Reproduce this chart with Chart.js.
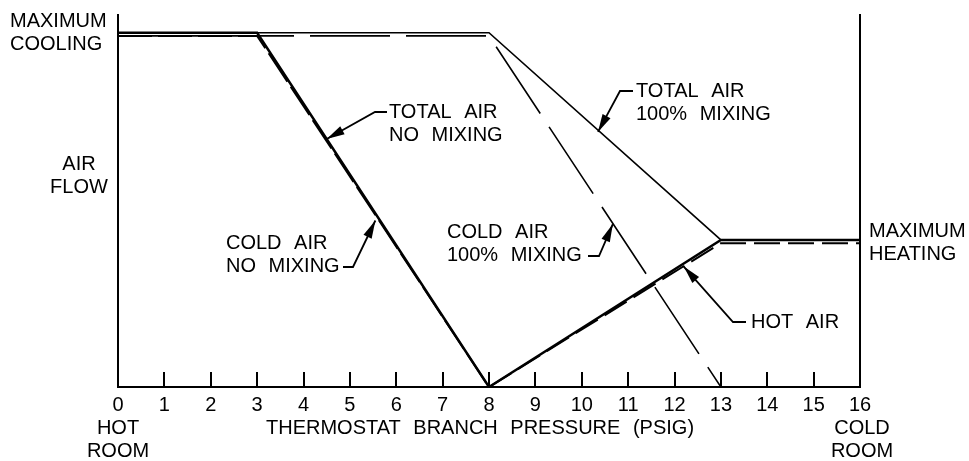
<!DOCTYPE html>
<html>
<head>
<meta charset="utf-8">
<script src="https://cdn.jsdelivr.net/npm/chart.js@4/dist/chart.umd.min.js"></script>
<style>
html, body { margin: 0; background: #fff; }
#wrap { width: 969px; height: 461px; }
</style>
</head>
<body>
<div id="wrap"><canvas id="chart"></canvas></div>
<script>
// --- data (x = thermostat branch pressure psig, y = relative air flow) ---
const pressureTicks = [0, 1, 2, 3, 4, 5, 6, 7, 8, 9, 10, 11, 12, 13, 14, 15, 16];
const totalNoMixX = [0, 3, 8, 13, 16];
const totalNoMixY = [100, 100, 0, 41.5, 41.5];
const coldNoMixX = [0, 3, 8, 16];
const coldNoMixY = [99.1, 99.1, 0, 0];
const totalMixX = [0, 8, 13, 16];
const totalMixY = [100, 100, 41.5, 41.5];
const coldMixX = [0, 8, 13];
const coldMixY = [99.1, 99.1, 0];
const hotAirX = [8, 13, 16];
const hotAirY = [0, 40.6, 40.6];

const FONT = "20px 'Liberation Sans'";
const pts = (xs, ys) => xs.map((x, i) => ({ x, y: ys[i] }));

// callouts: tip in data units, elbow + text in pixels
const callouts = [
	{ lines: ["TOTAL AIR", "NO MIXING"], tip: [4.5, 70], elbow: [375, 112], end: [387, 112], tx: 389, ty: 112 },
	{ lines: ["TOTAL AIR", "100% MIXING"], tip: [10.35, 72], elbow: [620, 91], end: [633, 91], tx: 636, ty: 91 },
	{ lines: ["COLD AIR", "NO MIXING"], tip: [5.55, 47], elbow: [353, 267], end: [343, 267], tx: 226, ty: 243 },
	{ lines: ["COLD AIR", "100% MIXING"], tip: [10.67, 46], elbow: [599, 256], end: [588, 256], tx: 447, ty: 232 },
	{ lines: ["HOT AIR"], tip: [12.2, 34], elbow: [733, 322], end: [746, 322], tx: 751, ty: 322 }
];

const sideLabels = [
	{ lines: ["MAXIMUM", "COOLING"], x: 10, y: 21, align: "left" },
	{ lines: ["AIR", "FLOW"], x: 79, y: 164, align: "center" },
	{ lines: ["MAXIMUM", "HEATING"], x: 869, y: 231, align: "left" },
	{ lines: ["HOT", "ROOM"], x: 118, y: 428, align: "center" },
	{ lines: ["COLD", "ROOM"], x: 862, y: 428, align: "center" },
	{ lines: ["THERMOSTAT BRANCH PRESSURE (PSIG)"], x: 480, y: 428, align: "center" }
];

function drawLines(ctx, lines, x, y, align) {
	ctx.textAlign = align;
	lines.forEach((t, i) => ctx.fillText(t, x, y + i * 23));
}

const extrasPlugin = {
	id: "extras",
	afterDraw(chart) {
		const { ctx, chartArea, scales } = chart;
		const xs = scales.x, ys = scales.y;
		ctx.save();
		// inward ticks
		ctx.strokeStyle = "#000";
		ctx.lineWidth = 2;
		pressureTicks.forEach(v => {
			const px = Math.round(xs.getPixelForValue(v));
			ctx.beginPath();
			ctx.moveTo(px, chartArea.bottom);
			ctx.lineTo(px, chartArea.bottom - 15);
			ctx.stroke();
		});
		// text
		ctx.fillStyle = "#000";
		ctx.font = FONT;
		ctx.wordSpacing = "7px";
		ctx.textBaseline = "middle";
		sideLabels.forEach(l => drawLines(ctx, l.lines, l.x, l.y, l.align));
		callouts.forEach(c => {
			drawLines(ctx, c.lines, c.tx, c.ty, "left");
			const tipX = xs.getPixelForValue(c.tip[0]);
			const tipY = ys.getPixelForValue(c.tip[1]);
			ctx.lineWidth = 1.8;
			ctx.beginPath();
			ctx.moveTo(c.end[0], c.end[1]);
			ctx.lineTo(c.elbow[0], c.elbow[1]);
			ctx.lineTo(tipX, tipY);
			ctx.stroke();
			const a = Math.atan2(tipY - c.elbow[1], tipX - c.elbow[0]);
			const L = 18, W = 4.5;
			ctx.beginPath();
			ctx.moveTo(tipX, tipY);
			ctx.lineTo(tipX - L * Math.cos(a) + W * Math.sin(a), tipY - L * Math.sin(a) - W * Math.cos(a));
			ctx.lineTo(tipX - L * Math.cos(a) - W * Math.sin(a), tipY - L * Math.sin(a) + W * Math.cos(a));
			ctx.closePath();
			ctx.fill();
		});
		ctx.restore();
	}
};

const lineDs = (data, width, dash) => ({
	data, borderColor: "#000", borderWidth: width, borderDash: dash || [],
	pointRadius: 0, tension: 0, fill: false, showLine: true
});

new Chart(document.getElementById("chart"), {
	type: "scatter",
	data: {
		datasets: [
			lineDs(pts(totalNoMixX, totalNoMixY), 2.5),
			lineDs(pts(coldNoMixX, coldNoMixY), 2, [34, 6]),
			lineDs(pts(totalMixX, totalMixY), 1.6),
			lineDs(pts(coldMixX, coldMixY), 1.6, [80, 16]),
			lineDs(pts(hotAirX, hotAirY), 2, [26, 8])
		]
	},
	options: {
		responsive: true, maintainAspectRatio: false, animation: false,
		layout: { padding: { top: 15, left: 0, right: 0, bottom: 0 } },
		plugins: { legend: { display: false }, tooltip: { enabled: false } },
		scales: {
			x: {
				type: "linear", min: 0, max: 16,
				afterFit: s => { s.height = 74; },
				afterBuildTicks: s => { s.ticks = pressureTicks.map(v => ({ value: v })); },
				grid: { display: false, drawTicks: false },
				border: { display: true, color: "#000", width: 2 },
				ticks: { color: "#000", font: { family: "Liberation Sans", size: 20 }, padding: 6, maxRotation: 0, autoSkip: false }
			},
			y: {
				min: 0, max: 105, position: "left",
				afterFit: s => { s.width = 118; },
				grid: { display: false, drawTicks: false },
				border: { display: true, color: "#000", width: 2 },
				ticks: { display: false }
			},
			y2: {
				min: 0, max: 105, position: "right",
				afterFit: s => { s.width = 109; },
				grid: { display: false, drawTicks: false },
				border: { display: true, color: "#000", width: 2 },
				ticks: { display: false }
			}
		}
	},
	plugins: [extrasPlugin]
});
</script>
</body>
</html>
